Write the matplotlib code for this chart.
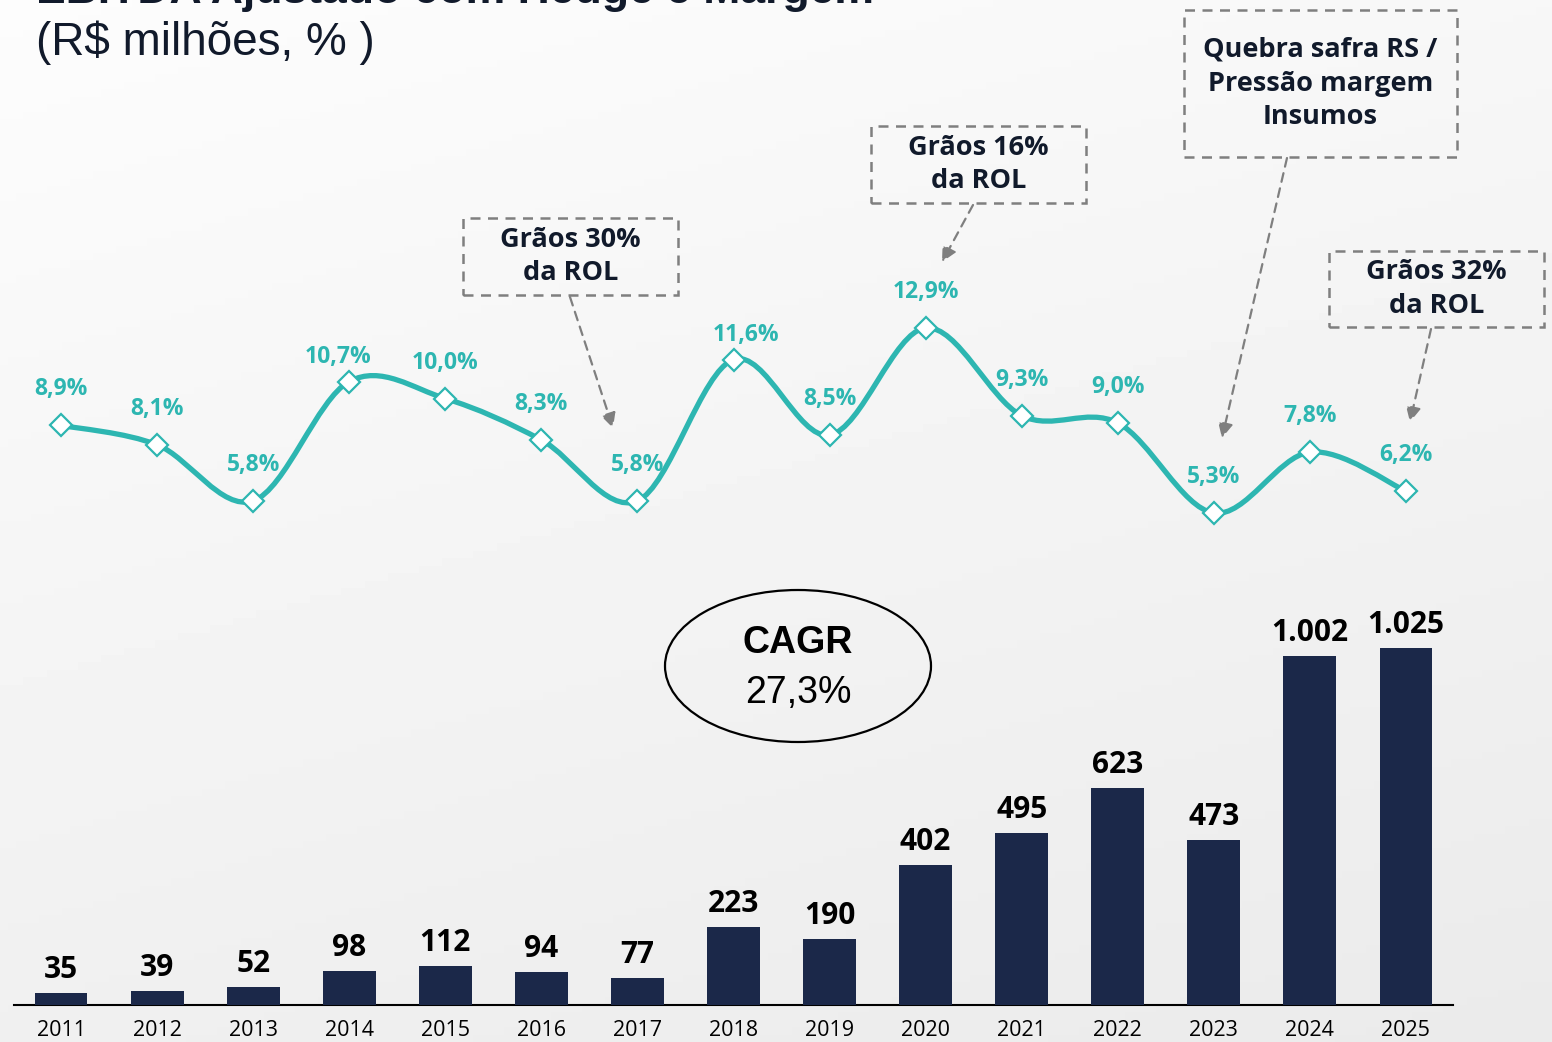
import numpy as np
import matplotlib.pyplot as plt
from matplotlib.path import Path
from matplotlib.patches import PathPatch, Rectangle, Ellipse, FancyArrowPatch

# dados
anos = [str(a) for a in range(2011, 2026)]
ebitda = [35, 39, 52, 98, 112, 94, 77, 223, 190, 402, 495, 623, 473, 1002, 1025]
rotulos_ebitda = ["35", "39", "52", "98", "112", "94", "77", "223", "190",
                  "402", "495", "623", "473", "1.002", "1.025"]
margem = [8.9, 8.1, 5.8, 10.7, 10.0, 8.3, 5.8, 11.6, 8.5, 12.9, 9.3, 9.0, 5.3, 7.8, 6.2]
rotulos_margem = [("%.1f%%" % m).replace(".", ",") for m in margem]

caixas = ["Grãos 30%\nda ROL", "Grãos 16%\nda ROL",
          "Quebra safra RS /\nPressão margem\nInsumos", "Grãos 32%\nda ROL"]

W, H = 1552, 1042
def fx(p):
    return p / W
def fy(p):
    return 1 - p / H

AZUL = "#1b2849"
VERDE = "#2db6b1"
TEXTO = "#111a2b"
CINZA = "#7f7f7f"

fig = plt.figure(figsize=(W / 100, H / 100), dpi=100)

# fundo em degradê
bg = fig.add_axes([0, 0, 1, 1], zorder=-10)
gx, gy = np.meshgrid(np.linspace(0, 1, 200), np.linspace(0, 1, 140))
g = 0.99 - 0.035 * gx * 0.6 - 0.05 * gy
bg.imshow(g, cmap="gray", vmin=0, vmax=1, aspect="auto", extent=[0, 1, 0, 1], origin="upper")
bg.axis("off")

# barras
ax_b = fig.add_axes([fx(14), fy(1005), fx(1453) - fx(14), (1005 - 590) / H])
ax_b.patch.set_alpha(0)
x = np.arange(len(anos))
ax_b.bar(x, ebitda, width=0.55, color=AZUL, zorder=3)
for xi, v, t in zip(x, ebitda, rotulos_ebitda):
    ax_b.annotate(t, (xi, v), xytext=(0, 23), textcoords="offset pixels",
                  ha="center", va="center", fontsize=21.5, fontweight="bold",
                  family="Open Sans", color="black")
ax_b.set_xlim(-0.49, 14.49)
ax_b.set_ylim(0, 1192)
for s in ["top", "left", "right"]:
    ax_b.spines[s].set_visible(False)
ax_b.spines["bottom"].set_linewidth(1.5)
ax_b.spines["bottom"].set_color("black")
ax_b.set_yticks([])
ax_b.set_xticks(x)
ax_b.set_xticklabels(anos, fontsize=15.5, family="Open Sans", color="black")
ax_b.tick_params(axis="x", length=0, pad=11)

# linha de margem
ax_l = fig.add_axes([fx(14), fy(560), fx(1453) - fx(14), (560 - 250) / H])
ax_l.patch.set_alpha(0)
ax_l.set_xlim(-0.49, 14.49)
ax_l.set_ylim(3.37, 16.1)
ax_l.axis("off")

pts = np.column_stack([x, margem]).astype(float)
verts = [pts[0]]
codes = [Path.MOVETO]
n = len(pts)
for i in range(n - 1):
    p0 = pts[i - 1] if i > 0 else pts[i]
    p1 = pts[i]
    p2 = pts[i + 1]
    p3 = pts[i + 2] if i + 2 < n else pts[i + 1]
    verts += [p1 + (p2 - p0) / 6, p2 - (p3 - p1) / 6, p2]
    codes += [Path.CURVE4] * 3
ax_l.add_patch(PathPatch(Path(verts, codes), facecolor="none", edgecolor=VERDE,
                         lw=3.8, capstyle="round", zorder=3))
ax_l.plot(x, margem, linestyle="none", marker="D", ms=11, mfc="white",
          mec=VERDE, mew=1.6, zorder=4)

desloc = {3: (-11, 25), 7: (13, 25)}
for i, (v, t) in enumerate(zip(margem, rotulos_margem)):
    dx, dy = desloc.get(i, (0, 36))
    ax_l.annotate(t, (x[i], v), xytext=(dx, dy), textcoords="offset pixels",
                  ha="center", va="center", fontsize=16.5, fontweight="bold",
                  family="Open Sans", color=VERDE)

# caixas tracejadas com setas
geo = [((463, 218, 678, 295), (570, 297), (613, 428)),
       ((871, 126, 1086, 203), (973, 205), (942, 262)),
       ((1184, 10, 1457, 157), (1287, 158), (1222, 438)),
       ((1329, 251, 1544, 327), (1431, 329), (1410, 422))]
for txt, ((x0, y0, x1, y1), a, b) in zip(caixas, geo):
    fig.add_artist(Rectangle((fx(x0), fy(y1)), fx(x1) - fx(x0), (y1 - y0) / H,
                             transform=fig.transFigure, facecolor="none",
                             edgecolor=CINZA, lw=1.8, linestyle=(0, (4, 3))))
    fig.text(fx((x0 + x1) / 2), fy((y0 + y1) / 2), txt, ha="center", va="center",
             fontsize=19.5, fontweight="bold", family="Open Sans", color=TEXTO,
             linespacing=1.38)
    fig.add_artist(FancyArrowPatch((fx(a[0]), fy(a[1])), (fx(b[0]), fy(b[1])),
                                   transform=fig.transFigure, arrowstyle="-|>",
                                   mutation_scale=22, color=CINZA, lw=1.6,
                                   linestyle=(0, (4, 3)), shrinkA=0, shrinkB=0))

# CAGR
fig.add_artist(Ellipse((fx(798), fy(666)), 266 / W, 152 / H, transform=fig.transFigure,
                       facecolor="none", edgecolor="black", lw=1.6))
fig.text(fx(798), fy(643), "CAGR", ha="center", va="center", fontsize=27,
         fontweight="bold", family="Liberation Sans", color="black")
fig.text(fx(798), fy(693), "27,3%", ha="center", va="center", fontsize=27,
         family="Liberation Sans", color="black")

# títulos (o primeiro aparece cortado no topo, como no original)
fig.text(fx(36), fy(3), "EBITDA Ajustado com Hedge e Margem", ha="left", va="baseline",
         fontsize=32, fontweight="bold", family="Liberation Sans", color=TEXTO)
fig.text(fx(36), fy(43), "(R$ milhões, % )", ha="left", va="center", fontsize=33,
         family="Liberation Sans", color=TEXTO)

fig.savefig("out.png", dpi=100)
